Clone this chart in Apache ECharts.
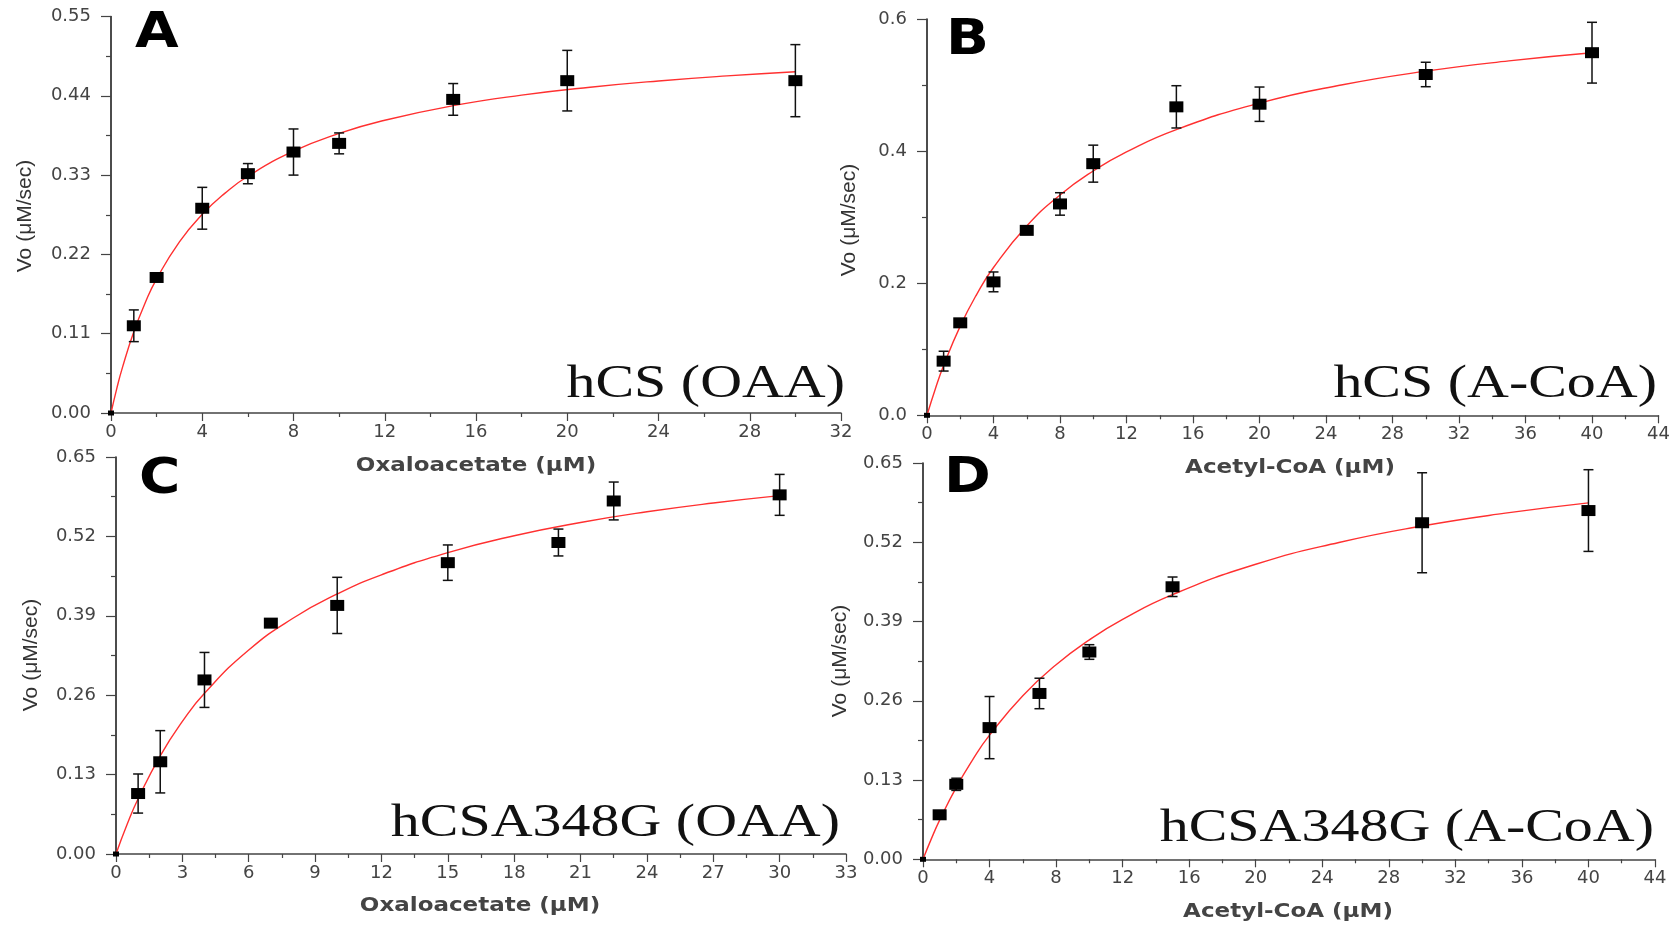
<!DOCTYPE html>
<html lang="en">
<head>
<meta charset="UTF-8">
<title>hCS kinetics</title>
<style>
    html, body { margin: 0; padding: 0; background: #fff; }
    #container { width: 1679px; height: 927px; }
</style>
</head>
<body>
<div id="container"></div>
<script src="https://cdn.jsdelivr.net/npm/echarts/dist/echarts.min.js"></script>
<script>
// panel A : hCS, oxaloacetate
var aConc = [0, 1, 2, 4, 6, 8, 10, 15, 20, 30];
var aRate = [0, 0.121, 0.188, 0.284, 0.332, 0.362, 0.374, 0.435, 0.461, 0.461];
var aErr  = [0, 0.022, 0, 0.029, 0.014, 0.032, 0.0145, 0.022, 0.042, 0.050];
var aFitX = [0, 0.25, 0.5, 1, 1.5, 2, 3, 4, 5, 6, 8, 10, 12, 15, 18, 21, 24, 27, 30];
var aFitY = [0, 0.0335, 0.0630, 0.1127, 0.1529, 0.1860, 0.2375, 0.2756, 0.3050, 0.3284, 0.3631, 0.3878, 0.4061, 0.4263, 0.4409, 0.4519, 0.4606, 0.4676, 0.4733];

// panel B : hCS, acetyl-CoA
var bConc = [0, 1, 2, 4, 6, 8, 10, 15, 20, 30, 40];
var bRate = [0, 0.082, 0.140, 0.202, 0.280, 0.320, 0.381, 0.467, 0.471, 0.516, 0.549];
var bErr  = [0, 0.015, 0, 0.015, 0, 0.017, 0.028, 0.032, 0.026, 0.0185, 0.046];
var bFitX = [0, 0.5, 1, 2, 3, 4, 6, 8, 10, 12, 15, 20, 25, 30, 35, 40];
var bFitY = [0, 0.0399, 0.0753, 0.1350, 0.1836, 0.2238, 0.2867, 0.3336, 0.3699, 0.3988, 0.4326, 0.4727, 0.5005, 0.5210, 0.5366, 0.5490];

// panel C : hCSA348G, oxaloacetate
var cConc = [0, 1, 2, 4, 7, 10, 15, 20, 22.5, 30];
var cRate = [0, 0.099, 0.151, 0.285, 0.378, 0.407, 0.477, 0.510, 0.578, 0.588];
var cErr  = [0, 0.032, 0.051, 0.045, 0, 0.046, 0.029, 0.022, 0.031, 0.0335];
var cFitX = [0, 0.5, 1, 2, 3, 4, 6, 8, 10, 12, 15, 18, 21, 24, 27, 30];
var cFitY = [0, 0.0482, 0.0905, 0.1608, 0.2171, 0.2632, 0.3340, 0.3860, 0.4257, 0.4571, 0.4934, 0.5211, 0.5428, 0.5603, 0.5747, 0.5868];

// panel D : hCSA348G, acetyl-CoA
var dConc = [0, 1, 2, 4, 7, 10, 15, 30, 40];
var dRate = [0, 0.073, 0.123, 0.216, 0.272, 0.340, 0.447, 0.552, 0.572];
var dErr  = [0, 0.006, 0.010, 0.051, 0.025, 0.012, 0.016, 0.082, 0.067];
var dFitX = [0, 0.5, 1, 2, 3, 4, 6, 8, 10, 12, 15, 20, 25, 30, 35, 40];
var dFitY = [0, 0.0335, 0.0642, 0.1181, 0.1640, 0.2036, 0.2684, 0.3191, 0.3600, 0.3936, 0.4341, 0.4839, 0.5197, 0.5467, 0.5677, 0.5846];

// axis ranges: [xMax, xStep, yMax, yStep, y decimals]
var aAxis = [32, 4, 0.55, 0.11, 2];
var bAxis = [44, 4, 0.6, 0.2, 1];
var cAxis = [33, 3, 0.65, 0.13, 2];
var dAxis = [44, 4, 0.65, 0.13, 2];

var panelLetters = ['A', 'B', 'C', 'D'];
var panelTitles = ['hCS (OAA)', 'hCS (A-CoA)', 'hCSA348G (OAA)', 'hCSA348G (A-CoA)'];
var xNames = ['Oxaloacetate (\u03bcM)', 'Acetyl-CoA (\u03bcM)', 'Oxaloacetate (\u03bcM)', 'Acetyl-CoA (\u03bcM)'];
var yName = 'Vo (\u03bcM/sec)';

var dom = document.getElementById('container');
var myChart = echarts.init(dom, null, {renderer: 'canvas'});

var grids = [
    {left: 111, top: 16.5, width: 730, height: 396.5},
    {left: 927, top: 19, width: 731.5, height: 396.3},
    {left: 116, top: 457, width: 730, height: 397},
    {left: 923, top: 463, width: 732, height: 396.3}
];

function pairs(xs, ys) {
    var out = [];
    for (var i = 0; i < xs.length; i++) out.push([xs[i], ys[i]]);
    return out;
}
function triples(xs, ys, es) {
    var out = [];
    for (var i = 0; i < xs.length; i++) out.push([xs[i], ys[i], es[i]]);
    return out;
}

function errorBarItem(params, api) {
    var x = api.value(0), y = api.value(1), e = api.value(2);
    if (!e) return null;
    var top = api.coord([x, y + e]);
    var bot = api.coord([x, y - e]);
    var half = 5;
    var st = {stroke: '#111', lineWidth: 1.5};
    return {
        type: 'group',
        children: [
            {type: 'line', shape: {x1: top[0], y1: top[1], x2: bot[0], y2: bot[1]}, style: st},
            {type: 'line', shape: {x1: top[0] - half, y1: top[1], x2: top[0] + half, y2: top[1]}, style: st},
            {type: 'line', shape: {x1: bot[0] - half, y1: bot[1], x2: bot[0] + half, y2: bot[1]}, style: st}
        ]
    };
}

var tickFont = {fontFamily: 'DejaVu Sans', fontSize: 18, color: '#444'};

function xAxisFor(i, ax) {
    return {
        type: 'value', gridIndex: i, min: 0, max: ax[0], interval: ax[1],
        axisLine: {show: true, onZero: false, lineStyle: {color: '#444', width: 1.5}},
        axisTick: {show: true, length: 8, lineStyle: {color: '#444', width: 1.2}},
        minorTick: {show: true, splitNumber: 2, length: 4, lineStyle: {color: '#444', width: 1.2}},
        splitLine: {show: false},
        axisLabel: Object.assign({margin: 10}, tickFont)
    };
}
function yAxisFor(i, ax) {
    var dec = ax[4];
    return {
        type: 'value', gridIndex: i, min: 0, max: ax[2], interval: ax[3],
        axisLine: {show: true, onZero: false, lineStyle: {color: '#111', width: 1.5}},
        axisTick: {show: true, length: 10, lineStyle: {color: '#444', width: 1.2}},
        minorTick: {show: true, splitNumber: 2, length: 5, lineStyle: {color: '#444', width: 1.2}},
        splitLine: {show: false},
        axisLabel: Object.assign({
            margin: 20,
            formatter: function (v) { return v.toFixed(dec); }
        }, tickFont)
    };
}

var panels = [
    {conc: aConc, rate: aRate, err: aErr, fx: aFitX, fy: aFitY, ax: aAxis},
    {conc: bConc, rate: bRate, err: bErr, fx: bFitX, fy: bFitY, ax: bAxis},
    {conc: cConc, rate: cRate, err: cErr, fx: cFitX, fy: cFitY, ax: cAxis},
    {conc: dConc, rate: dRate, err: dErr, fx: dFitX, fy: dFitY, ax: dAxis}
];

var xAxes = [], yAxes = [], series = [];
panels.forEach(function (p, i) {
    xAxes.push(xAxisFor(i, p.ax));
    yAxes.push(yAxisFor(i, p.ax));
    series.push({
        type: 'line', xAxisIndex: i, yAxisIndex: i,
        data: pairs(p.fx, p.fy), smooth: true, showSymbol: false, z: 2,
        lineStyle: {color: '#ff3030', width: 1.4}
    });
    series.push({
        type: 'custom', xAxisIndex: i, yAxisIndex: i,
        data: triples(p.conc, p.rate, p.err),
        encode: {x: 0, y: 1}, renderItem: errorBarItem, z: 3
    });
    series.push({
        type: 'scatter', xAxisIndex: i, yAxisIndex: i,
        data: pairs(p.conc, p.rate), symbol: 'rect', z: 4,
        symbolSize: function (v) { return v[0] === 0 ? [6, 5] : [14, 11]; },
        itemStyle: {color: '#000', opacity: 1}
    });
});

// text positions
var letterPos = [[135, 10], [946, 17], [139, 456], [944, 455]];
var titlePos = [[845, 408], [1657, 408], [840, 847], [1654, 852]];
var xNamePos = [[476, 466], [1290, 468], [480, 906], [1288, 912]];
var yNamePos = [[25, 216], [849, 220], [31, 655], [840, 661]];

var graphics = [];
for (var i = 0; i < 4; i++) {
    graphics.push({
        type: 'text', x: letterPos[i][0], y: letterPos[i][1], scaleX: 1.15, z: 10,
        style: {text: panelLetters[i], fontFamily: 'DejaVu Sans', fontWeight: 'bold', fontSize: 49,
                fill: '#000', textAlign: 'left', textVerticalAlign: 'top'}
    });
    graphics.push({
        type: 'text', x: titlePos[i][0], y: titlePos[i][1], scaleX: 1.26, z: 10,
        style: {text: panelTitles[i], fontFamily: 'Liberation Serif', fontSize: 46,
                fill: '#111', textAlign: 'right', textVerticalAlign: 'bottom'}
    });
    graphics.push({
        type: 'text', x: xNamePos[i][0], y: xNamePos[i][1], scaleX: 1.15, z: 10,
        style: {text: xNames[i], fontFamily: 'DejaVu Sans', fontWeight: 'bold', fontSize: 20,
                fill: '#444', textAlign: 'center', textVerticalAlign: 'middle'}
    });
    graphics.push({
        type: 'text', x: yNamePos[i][0], y: yNamePos[i][1], rotation: Math.PI / 2, z: 10,
        style: {text: yName, fontFamily: 'Liberation Sans', fontSize: 21,
                fill: '#333', textAlign: 'center', textVerticalAlign: 'middle'}
    });
}

var option = {
    backgroundColor: '#fff',
    animation: false,
    grid: grids,
    xAxis: xAxes,
    yAxis: yAxes,
    series: series,
    graphic: graphics
};
myChart.setOption(option, true);
</script>
</body>
</html>
